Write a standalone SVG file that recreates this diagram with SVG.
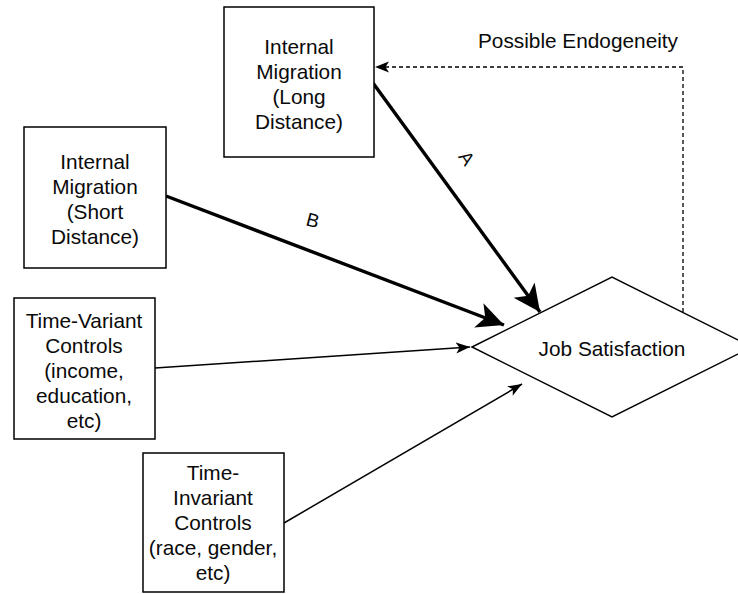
<svg xmlns="http://www.w3.org/2000/svg" width="738" height="594" viewBox="0 0 738 594">
<style>
.box{fill:#fff;stroke:#000;stroke-width:1.5}
.t{font-family:"Liberation Sans",Arial,sans-serif;font-size:20.8px;fill:#0a0a0a;text-anchor:middle}
.lbl{font-family:"Liberation Sans",Arial,sans-serif;font-size:19px;fill:#0a0a0a;text-anchor:middle}
.thick{fill:none;stroke:#000;stroke-width:3.4}
.thin{fill:none;stroke:#000;stroke-width:1.5}
.dash{fill:none;stroke:#000;stroke-width:1.3;stroke-dasharray:4 3}
</style>
<defs>
<marker id="big" markerUnits="userSpaceOnUse" markerWidth="30" markerHeight="28" refX="27" refY="13" orient="auto" viewBox="0 0 30 28">
<path d="M0,0 L27,13 L0,26 L7,13 z" fill="#000"/>
</marker>
<marker id="small" markerUnits="userSpaceOnUse" markerWidth="16" markerHeight="12" refX="14" refY="5.5" orient="auto" viewBox="0 0 16 12">
<path d="M0,0 L14,5.5 L0,11 L3.5,5.5 z" fill="#000"/>
</marker>
</defs>
<rect width="738" height="594" fill="#fff"/>
<g id="connectors">
<line class="thick" x1="373" y1="83" x2="540" y2="312" marker-end="url(#big)"/>
<line class="thick" x1="166" y1="196" x2="504" y2="325" marker-end="url(#big)"/>
<line class="thin" x1="155" y1="368" x2="470" y2="347" marker-end="url(#small)"/>
<line class="thin" x1="284" y1="523" x2="522" y2="384" marker-end="url(#small)"/>
<path class="dash" d="M683,312 V67 H375" marker-end="url(#small)"/>
<text class="lbl" transform="translate(467,158) rotate(55)" y="7">A</text>
<text class="lbl" transform="translate(313,220) rotate(15)" y="7">B</text>
<text class="t" x="578" y="48">Possible Endogeneity</text>
</g>
<g id="long">
<rect class="box" x="224" y="7" width="150" height="150"/>
<text class="t" x="299" y="54">Internal</text>
<text class="t" x="299" y="79">Migration</text>
<text class="t" x="299" y="104">(Long</text>
<text class="t" x="299" y="129">Distance)</text>
</g>
<g id="short">
<rect class="box" x="24" y="127" width="142" height="141"/>
<text class="t" x="95" y="169">Internal</text>
<text class="t" x="95" y="194">Migration</text>
<text class="t" x="95" y="219">(Short</text>
<text class="t" x="95" y="244">Distance)</text>
</g>
<g id="variant">
<rect class="box" x="14" y="298" width="141" height="141"/>
<text class="t" x="84" y="328">Time-Variant</text>
<text class="t" x="84" y="353">Controls</text>
<text class="t" x="84" y="378">(income,</text>
<text class="t" x="84" y="403">education,</text>
<text class="t" x="84" y="428">etc)</text>
</g>
<g id="invariant">
<rect class="box" x="143" y="453" width="141" height="139"/>
<text class="t" x="213" y="480">Time-</text>
<text class="t" x="213" y="505">Invariant</text>
<text class="t" x="213" y="530">Controls</text>
<text class="t" x="213" y="555">(race, gender,</text>
<text class="t" x="213" y="580">etc)</text>
</g>
<g id="job">
<path class="thin" d="M472,347 L612,277 L752,347 L612,417 Z" fill="#fff"/>
<text class="t" x="612" y="356">Job Satisfaction</text>
</g>
</svg>
